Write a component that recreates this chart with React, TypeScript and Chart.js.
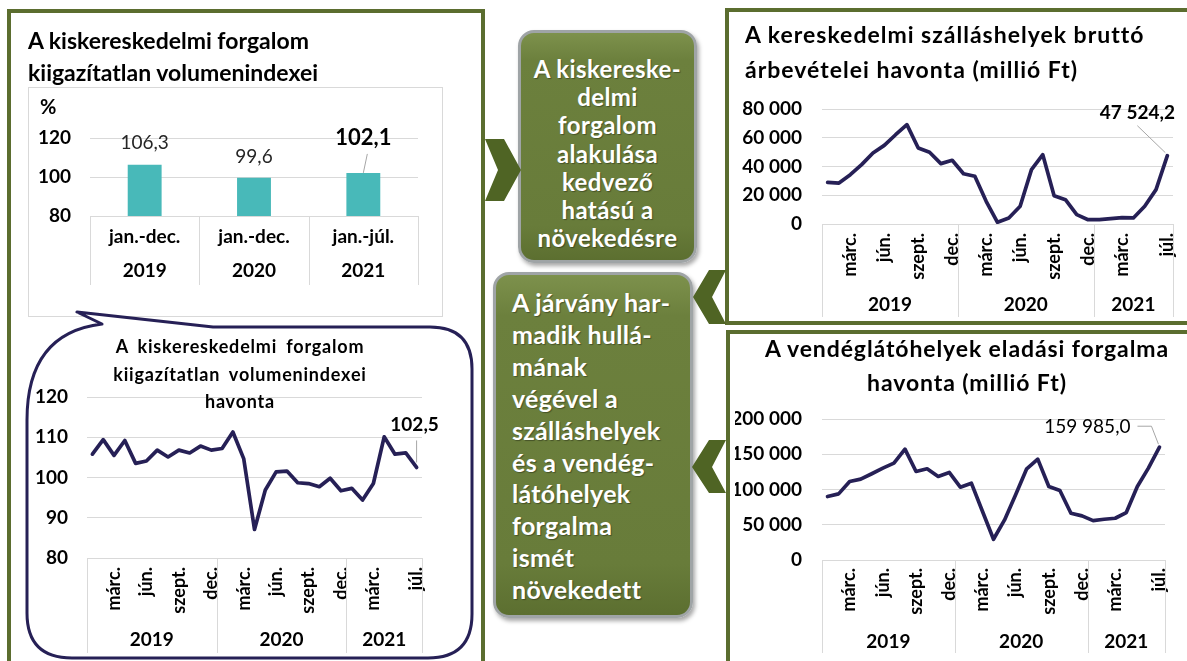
import React, { useEffect, useRef } from 'react';
import Chart from 'chart.js/auto';

const FONT = 'Lato, "Open Sans", sans-serif';

// ---------- DATA ----------
const barCategories = [['jan.-dec.', '2019'], ['jan.-dec.', '2020'], ['jan.-júl.', '2021']];
const barValues = [106.3, 99.6, 102.1];

const monthLabels = ['', '', 'márc.', '', '', 'jún.', '', '', 'szept.', '', '', 'dec.',
  '', '', 'márc.', '', '', 'jún.', '', '', 'szept.', '', '', 'dec.',
  '', '', 'márc.', '', '', '', 'júl.'];
const yearLabels = ['2019', '2020', '2021'];
const yearStarts = [0, 12, 24];

const retailMonthly = [105.8, 109.4, 105.5, 109.2, 103.5, 104.1, 106.8, 105.1, 106.8, 106.1, 107.8, 106.8,
  107.2, 111.3, 104.7, 87.1, 96.9, 101.4, 101.6, 98.7, 98.5, 97.7, 99.8, 96.7,
  97.3, 94.4, 98.5, 110.1, 105.8, 106.1, 102.5];
const accommodation = [29000, 28500, 34300, 41300, 49400, 54700, 62100, 69100, 52900, 49900, 42000, 44300,
  35000, 33200, 15800, 1200, 4200, 12300, 37800, 48200, 19700, 16900, 6500, 3000,
  3000, 3700, 4400, 4200, 12300, 23900, 47524.2];
const catering = [90000, 93800, 111400, 114700, 122300, 130300, 137400, 157300, 125600, 129400, 118500, 124200,
  103300, 109000, 69200, 29400, 56900, 92400, 129400, 143100, 104300, 98600, 66400, 62600,
  55900, 57800, 59200, 67300, 104300, 130300, 159985.0];

// ---------- STYLE ----------
const OLIVE = '#5b6d2f';
const CHEVRON = '#4f6424';
const NAVY = '#262056';
const TEAL = '#48b9b9';
const GRID = '#d9d9d9';

Chart.defaults.font.family = FONT;

function fmt(v: number, dec: number) {
  const s = v.toFixed(dec);
  const [i, d] = s.split('.');
  const ii = i.replace(/\B(?=(\d{3})+(?!\d))/g, ' ');
  return d ? ii + ',' + d : ii;
}

function groupsPlugin(cfg: { starts: number[]; labels: string[]; lineLen: number; labelOffset: number; font: string }) {
  return {
    id: 'groups',
    afterDraw(chart: any) {
      const { ctx, chartArea } = chart;
      const x = chart.scales.x;
      const n = chart.data.labels.length;
      const step = x.getPixelForValue(1) - x.getPixelForValue(0);
      const edge = (i: number) => x.getPixelForValue(i) - step / 2;
      ctx.save();
      ctx.strokeStyle = GRID;
      ctx.lineWidth = 1;
      const bounds = [...cfg.starts, n];
      bounds.forEach((b) => {
        const px = Math.round(edge(b)) + 0.5;
        ctx.beginPath();
        ctx.moveTo(px, chartArea.bottom);
        ctx.lineTo(px, chartArea.bottom + cfg.lineLen);
        ctx.stroke();
      });
      ctx.fillStyle = '#000';
      ctx.font = cfg.font;
      ctx.textAlign = 'center';
      ctx.textBaseline = 'middle';
      cfg.labels.forEach((lab, k) => {
        const cx = (edge(bounds[k]) + edge(bounds[k + 1])) / 2;
        ctx.fillText(lab, cx, chartArea.bottom + cfg.labelOffset);
      });
      ctx.restore();
    },
  };
}

function endLabelPlugin(cfg: { dec: number; dx: number; dy: number; font: string; align: CanvasTextAlign; leader: number[][] }) {
  return {
    id: 'endLabel',
    afterDatasetsDraw(chart: any) {
      const { ctx } = chart;
      const meta = chart.getDatasetMeta(0);
      const data = chart.data.datasets[0].data;
      const last = data.length - 1;
      const pt = meta.data[last];
      ctx.save();
      ctx.strokeStyle = '#a6a6a6';
      ctx.lineWidth = 1;
      ctx.beginPath();
      cfg.leader.forEach(([lx, ly], i) => {
        if (i === 0) ctx.moveTo(pt.x + lx, pt.y + ly);
        else ctx.lineTo(pt.x + lx, pt.y + ly);
      });
      ctx.stroke();
      ctx.fillStyle = '#000';
      ctx.font = cfg.font;
      ctx.textAlign = cfg.align;
      ctx.textBaseline = 'middle';
      ctx.fillText(fmt(data[last], cfg.dec), pt.x + cfg.dx, pt.y + cfg.dy);
      ctx.restore();
    },
  };
}

const barLabelStyle = [
  { dy: -22, font: '19px ' + FONT, color: '#262626', leader: null as null | number[] },
  { dy: -21, font: '19px ' + FONT, color: '#262626', leader: null },
  { dy: -35, font: 'bold 22px ' + FONT, color: '#000', leader: [4, -19, 0, 0] },
];

const barLabelPlugin = {
  id: 'barLabels',
  afterDatasetsDraw(chart: any) {
    const { ctx } = chart;
    const meta = chart.getDatasetMeta(0);
    const data = chart.data.datasets[0].data;
    ctx.save();
    meta.data.forEach((bar: any, i: number) => {
      const st = barLabelStyle[i];
      if (st.leader) {
        ctx.strokeStyle = '#a6a6a6';
        ctx.lineWidth = 1;
        ctx.beginPath();
        ctx.moveTo(bar.x + st.leader[0], bar.y + st.leader[1]);
        ctx.lineTo(bar.x + st.leader[2], bar.y + st.leader[3]);
        ctx.stroke();
      }
      ctx.fillStyle = st.color;
      ctx.font = st.font;
      ctx.textAlign = 'center';
      ctx.textBaseline = 'middle';
      ctx.fillText(fmt(data[i], 1), bar.x, bar.y + st.dy);
    });
    ctx.restore();
  },
};

function ChartCanvas({ left, top, width, height, make }: any) {
  const ref = useRef<HTMLCanvasElement>(null);
  useEffect(() => {
    const chart = new Chart(ref.current as HTMLCanvasElement, make());
    return () => chart.destroy();
  }, []);
  return (
    <canvas ref={ref} width={width} height={height}
      style={{ position: 'absolute', left, top, width, height, zIndex: 2 }} />
  );
}

function lineConfig(o: {
  data: number[]; min: number; max: number; step: number;
  pad: { left: number; right: number; top: number; bottom: number };
  yWidth: number; yPad: number; xHeight: number; xPad: number;
  groupLine: number; groupLabel: number; end: any;
}) {
  return {
    type: 'line',
    data: {
      labels: monthLabels,
      datasets: [{ data: o.data, borderColor: NAVY, borderWidth: 3.7, pointRadius: 0, tension: 0, fill: false, borderJoinStyle: 'round', borderCapStyle: 'round' }],
    },
    options: {
      animation: false, responsive: false, maintainAspectRatio: false,
      layout: { padding: o.pad },
      plugins: { legend: { display: false }, tooltip: { enabled: false } },
      scales: {
        x: {
          type: 'category', offset: true,
          grid: { display: false, drawTicks: false },
          border: { display: false },
          ticks: { autoSkip: false, minRotation: 90, maxRotation: 90, padding: o.xPad, color: '#000', font: { size: 18, weight: 'bold' } },
          afterFit: (s: any) => { s.height = o.xHeight; },
        },
        y: {
          min: o.min, max: o.max,
          grid: { color: GRID, drawTicks: false },
          border: { display: false },
          ticks: { autoSkip: false, stepSize: o.step, padding: o.yPad, color: '#000', font: { size: 19, weight: 'bold' }, callback: (v: any) => fmt(Number(v), 0) },
          afterFit: (s: any) => { s.width = o.yWidth; },
        },
      },
    },
    plugins: [
      groupsPlugin({ starts: yearStarts, labels: yearLabels, lineLen: o.groupLine, labelOffset: o.groupLabel, font: 'bold 19px ' + FONT }),
      endLabelPlugin(o.end),
    ],
  };
}

function barConfig() {
  return {
    type: 'bar',
    data: {
      labels: barCategories,
      datasets: [{ data: barValues, backgroundColor: TEAL, barPercentage: 0.31, categoryPercentage: 1 }],
    },
    options: {
      animation: false, responsive: false, maintainAspectRatio: false,
      layout: { padding: { left: 0, right: 25, top: 51, bottom: 0 } },
      plugins: { legend: { display: false }, tooltip: { enabled: false } },
      scales: {
        x: {
          grid: { display: false, drawTicks: false },
          border: { display: false },
          ticks: { padding: 4, color: '#000', font: { size: 19, weight: 'bold', lineHeight: 34 / 19 } },
          afterFit: (s: any) => { s.height = 101; },
        },
        y: {
          min: 80, max: 120,
          grid: { color: GRID, drawTicks: false },
          border: { display: false },
          ticks: { autoSkip: false, stepSize: 20, padding: 19, color: '#000', font: { size: 19, weight: 'bold' } },
          afterFit: (s: any) => { s.width = 62; },
        },
      },
    },
    plugins: [
      groupsPlugin({ starts: [0, 1, 2], labels: [], lineLen: 69, labelOffset: 0, font: 'bold 19px ' + FONT }),
      barLabelPlugin,
    ],
  };
}

const chevronRight = '485,139 504,139 521,170 504,201 485,201 498,170';
const chevronLeft1 = '709,270 726,270 712,297 726,324 709,324 693,297';
const chevronLeft2 = '709,440 726,440 712,467 726,493 709,493 692,467';

const bubblePath =
  'M 27,420 C 27,362 52,330 102,324 L 77,312 L 213,327 L 430,327 Q 472,327 472,369 ' +
  'L 472,614 Q 472,658 428,658 L 72,658 Q 27,658 27,613 Z';

const abs = (s: any) => ({ position: 'absolute' as const, ...s });

const titleStyle = { fontFamily: FONT, fontWeight: 700, color: '#000', whiteSpace: 'nowrap' as const };

const greenBox = {
  background: 'linear-gradient(180deg, #7d914c 0%, #6c803d 12%, #687c3a 85%, #5c6f30 100%)',
  border: '3px solid #9fa4a6',
  borderRadius: 16,
  boxShadow: '2px 3px 4px rgba(0,0,0,0.35)',
  boxSizing: 'border-box' as const,
  color: '#fff',
  fontFamily: FONT,
  fontWeight: 700,
  textShadow: '1px 1px 1px rgba(0,0,0,0.35)',
  whiteSpace: 'nowrap' as const,
};

export default function App() {
  return (
    <div style={{ position: 'absolute', left: 0, top: 0, width: 1187, height: 661, overflow: 'hidden', background: '#fff' }}>
      {/* frames */}
      <div style={abs({ left: 7, top: 9, width: 478, height: 720, border: `4px solid ${OLIVE}`, boxSizing: 'border-box' })} />
      <div style={abs({ left: 725, top: 8, width: 520, height: 317, border: `4px solid ${OLIVE}`, boxSizing: 'border-box' })} />
      <div style={abs({ left: 726, top: 330, width: 520, height: 400, border: `4px solid ${OLIVE}`, boxSizing: 'border-box' })} />
      <div style={abs({ left: 28, top: 87, width: 415, height: 230, border: `1px solid ${GRID}`, boxSizing: 'border-box' })} />

      <svg width={1187} height={661} style={abs({ left: 0, top: 0, zIndex: 1 })}>
        <path d={bubblePath} fill="#fff" stroke={NAVY} strokeWidth={3} strokeLinejoin="round" />
      </svg>

      {/* titles */}
      <div style={abs({ ...titleStyle, left: 28, top: 24, fontSize: 23, lineHeight: '32px', zIndex: 3 })}>
        A kiskereskedelmi forgalom<br />kiigazítatlan volumenindexei
      </div>
      <div style={abs({ ...titleStyle, left: 40, top: 94, fontSize: 20, lineHeight: '24px', zIndex: 3 })}>%</div>
      <div style={abs({ ...titleStyle, left: 90, top: 333, width: 300, textAlign: 'center', fontSize: 18, lineHeight: '27.5px', zIndex: 3, letterSpacing: 0.8, wordSpacing: 4 })}>
        A kiskereskedelmi forgalom<br />kiigazítatlan volumenindexei<br />havonta
      </div>
      <div style={abs({ ...titleStyle, left: 745, top: 17, fontSize: 23, lineHeight: '35px', letterSpacing: 1, zIndex: 3 })}>
        A kereskedelmi szálláshelyek bruttó<br />árbevételei havonta (millió Ft)
      </div>
      <div style={abs({ ...titleStyle, left: 747, top: 331, width: 440, textAlign: 'center', fontSize: 23, lineHeight: '34px', letterSpacing: 0.9, zIndex: 3 })}>
        A vendéglátóhelyek eladási forgalma<br />havonta (millió Ft)
      </div>

      {/* charts */}
      <ChartCanvas left={28} top={87} width={415} height={230} make={barConfig} />
      <ChartCanvas left={20} top={357} width={450} height={300} make={() => lineConfig({
        data: retailMonthly, min: 80, max: 120, step: 10,
        pad: { left: 0, right: 48, top: 40, bottom: 0 }, yWidth: 67, yPad: 19, xHeight: 99, xPad: 9,
        groupLine: 95, groupLabel: 82,
        end: { dec: 1, dx: -2, dy: -43, font: 'bold 19px ' + FONT, align: 'center', leader: [[0, -27], [0, -5]] },
      })} />
      <ChartCanvas left={735} top={69} width={474} height={253} make={() => lineConfig({
        data: accommodation, min: 0, max: 80000, step: 20000,
        pad: { left: 0, right: 36, top: 40, bottom: 0 }, yWidth: 87, yPad: 20, xHeight: 98, xPad: 9,
        groupLine: 93, groupLabel: 81,
        end: { dec: 1, dx: -30, dy: -43, font: 'bold 19px ' + FONT, align: 'center', leader: [[-30, -30], [-2, -3]] },
      })} />
      <ChartCanvas left={735} top={379} width={466} height={281} make={() => lineConfig({
        data: catering, min: 0, max: 200000, step: 50000,
        pad: { left: 0, right: 36, top: 40, bottom: 0 }, yWidth: 87, yPad: 20, xHeight: 100, xPad: 8,
        groupLine: 93, groupLabel: 82,
        end: { dec: 1, dx: -29, dy: -20, font: '19px ' + FONT, align: 'right', leader: [[-22, -21], [-8, -21], [-1, -3]] },
      })} />

      {/* middle boxes */}
      <div style={abs({ ...greenBox, left: 518, top: 30, width: 179, height: 233, zIndex: 4, textAlign: 'center', fontSize: 24, letterSpacing: 0.4, lineHeight: '28.2px', paddingTop: 22 })}>
        A kiskereske-<br />delmi<br />forgalom<br />alakulása<br />kedvező<br />hatású a<br />növekedésre
      </div>
      <div style={abs({ ...greenBox, left: 493, top: 272, width: 200, height: 346, zIndex: 4, textAlign: 'left', fontSize: 25, letterSpacing: 0.3, lineHeight: '31.9px', paddingTop: 12, paddingLeft: 16 })}>
        A járvány har-<br />madik hullá-<br />mának<br />végével a<br />szálláshelyek<br />és a vendég-<br />látóhelyek<br />forgalma<br />ismét<br />növekedett
      </div>

      <svg width={1187} height={661} style={abs({ left: 0, top: 0, zIndex: 5, pointerEvents: 'none' })}>
        <polygon points={chevronRight} fill={CHEVRON} />
        <polygon points={chevronLeft1} fill={CHEVRON} />
        <polygon points={chevronLeft2} fill={CHEVRON} />
      </svg>
    </div>
  );
}
